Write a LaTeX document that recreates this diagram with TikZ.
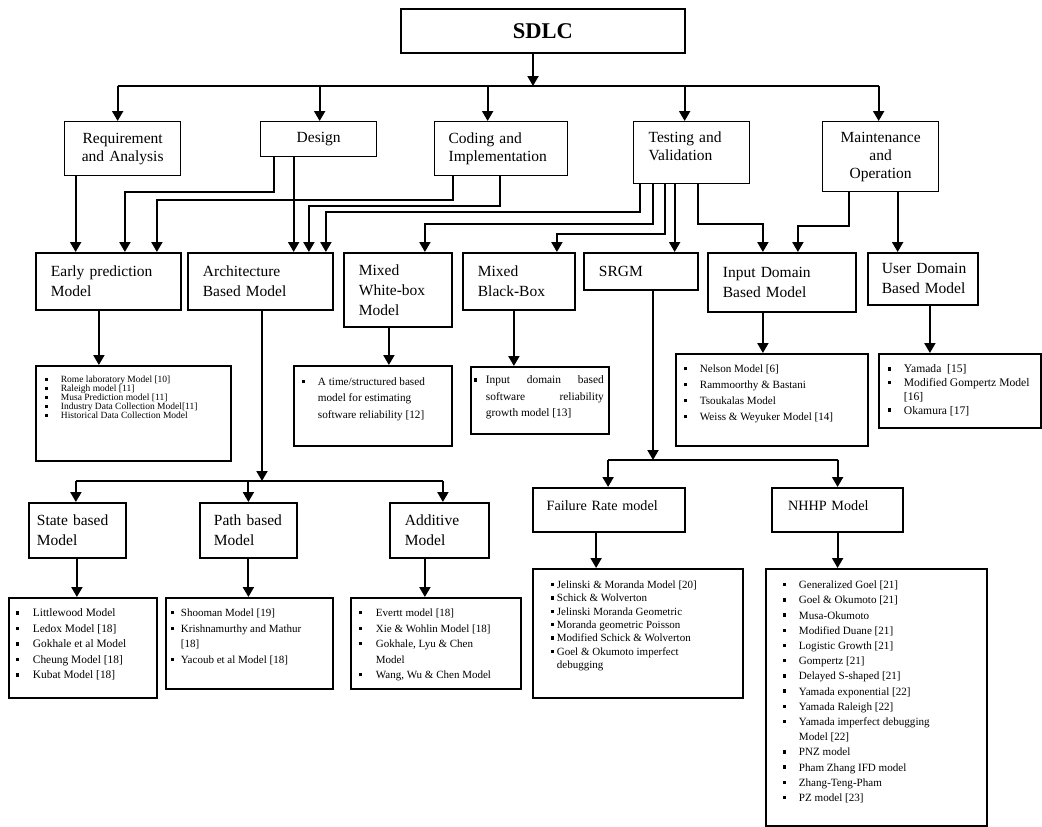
\documentclass[tikz,border=0pt]{standalone}
\usepackage{fontspec}
\setmainfont{Liberation Serif}
\usepackage{tikz}
\usetikzlibrary{arrows.meta}

\newlength\bulx
\newlength\txtx
\newcommand{\mitem}[1]{\par\hangindent=\txtx\hangafter=1\noindent\hspace*{\bulx}\makebox[\dimexpr\txtx-\bulx\relax][l]{\rule[0.2em]{0.3em}{0.3em}}#1\par}
\newcommand{\modlist}[6]{\parbox[t][#2pt][t]{#1pt}{\setlength\parskip{0pt}\setlength\bulx{#3pt}\setlength\txtx{#4pt}\rightskip=0pt plus 1fil\vspace*{#5pt}#6}}

\begin{document}
\begin{tikzpicture}[x=1pt, y=-1pt,
  phase/.style={draw, line width=1.3pt, anchor=north west, inner ysep=0pt, font={\fontsize{15.5}{18}\selectfont}},
  model/.style={draw, line width=1.8pt, anchor=north west, inner ysep=0pt, inner xsep=15pt, align=left, font={\fontsize{15.5}{20}\selectfont}},
  rate/.style={model, line width=2.2pt, text depth=9pt, font={\fontsize{14.2}{17}\selectfont}},
  listbox/.style={draw, line width=1.8pt, anchor=north west, inner sep=0pt},
  arr/.style={line width=2pt, -{Triangle[length=10pt, width=11pt]}},
  bar/.style={line width=2pt}]
  \useasboundingbox (0,0) rectangle (1042,827);

  % phases
  \node[phase, line width=1.8pt, minimum width=284pt, minimum height=44pt, font={\fontsize{22.5}{26}\selectfont\bfseries}] (sdlc) at (400,8) {SDLC};
  \node[phase, text width=106pt, inner xsep=5pt, minimum height=54pt, align=center] (req) at (64,121) {Requirement\\and Analysis};
  \node[phase, text width=106pt, inner xsep=5pt, minimum height=35pt, align=center] (design) at (260,121) {Design};
  \node[phase, text width=105pt, inner xsep=14pt, minimum height=54pt, align=left] (coding) at (434,121) {Coding and\\Implementation};
  \node[phase, text width=86pt, inner xsep=15pt, minimum height=62pt, text depth=31pt, align=left] (testing) at (633,121) {Testing and\\Validation};
  \node[phase, text width=106pt, inner xsep=5pt, minimum height=70pt, align=center] (maint) at (822,121) {Maintenance\\and\\Operation};

  % models
  \node[model, text width=115pt, minimum height=57pt] (early) at (35,252) {Early prediction\\Model};
  \node[model, text width=115pt, minimum height=57pt] (arch) at (187,252) {Architecture\\Based Model};
  \node[model, text width=78pt, minimum height=74pt] (white) at (343,252) {Mixed\\White-box\\Model};
  \node[model, text width=82pt, minimum height=57pt] (black) at (462,252) {Mixed\\Black-Box};
  \node[model, text width=84pt, minimum height=37pt] (srgm) at (583,252) {SRGM};
  \node[model, text width=118pt, minimum height=59pt] (input) at (707,252) {Input Domain\\Based Model};
  \node[model, text width=90pt, inner xsep=10pt, minimum height=52pt] (user) at (867,252) {\hspace*{4pt}User Domain\\\hspace*{4pt}Based Model};

  \node[model, text width=81pt, inner xsep=8pt, minimum height=55pt] (state) at (28,502) {State based\\Model};
  \node[model, text width=69pt, inner xsep=14pt, minimum height=55pt] (path) at (199,502) {Path based\\Model};
  \node[model, text width=69pt, minimum height=55pt] (additive) at (389,502) {Additive\\Model};
  \node[rate, text width=125pt, inner xsep=13.5pt, minimum height=44pt] (failure) at (532,487) {Failure Rate model};
  \node[rate, text width=99pt, inner xsep=16pt, minimum height=44pt] (nhhp) at (771,487) {NHHP Model};

  % lists
  \node[listbox] (earlylist) at (35,365) {\modlist{195}{95}{9}{25}{10}{\fontsize{9.5}{9.1}\selectfont
    \mitem{Rome laboratory Model [10]}
    \mitem{Raleigh model [11]}
    \mitem{Musa Prediction model [11]}
    \mitem{Industry Data Collection Model[11]}
    \mitem{Historical Data Collection Model}}};
  \node[listbox] (whitelist) at (293,365) {\modlist{158}{80}{8}{24}{12}{\fontsize{11.2}{16.2}\selectfont
    \mitem{A time/structured based\\model for estimating\\software reliability [12]}}};
  \node[listbox] (blacklist) at (470,366) {\modlist{138}{67}{3}{15}{9}{\fontsize{11.4}{16.3}\selectfont\rightskip=5pt plus 1fil
    \mitem{Input\hfill domain\hfill based\\software\hfill reliability\\growth model [13]}}};
  \node[listbox] (inputlist) at (675,353) {\modlist{192}{92}{8}{24}{11}{\fontsize{11.1}{16}\selectfont
    \mitem{Nelson Model [6]}
    \mitem{Rammoorthy \& Bastani}
    \mitem{Tsoukalas Model}
    \mitem{Weiss \& Weyuker Model [14]}}};
  \node[listbox] (userlist) at (878,353) {\modlist{162}{74}{9}{25}{11}{\fontsize{11.6}{13.7}\selectfont
    \mitem{Yamada\ \ [15]}
    \mitem{Modified Gompertz Model\\{[16]}}
    \mitem{Okamura [17]}}};
  \node[listbox] (statelist) at (8,597) {\modlist{148}{100}{7}{24}{11}{\fontsize{11.4}{15.5}\selectfont
    \mitem{Littlewood Model}
    \mitem{Ledox Model [18]}
    \mitem{Gokhale et al Model}
    \mitem{Cheung Model [18]}
    \mitem{Kubat Model [18]}}};
  \node[listbox] (pathlist) at (165,597) {\modlist{167}{91}{5}{15}{11}{\fontsize{11}{15.6}\selectfont
    \mitem{Shooman Model [19]}
    \mitem{Krishnamurthy and Mathur\\{[18]}}
    \mitem{Yacoub et al Model [18]}}};
  \node[listbox] (addlist) at (350,597) {\modlist{170}{91}{8}{25}{11}{\fontsize{11}{15.5}\selectfont
    \mitem{Evertt model [18]}
    \mitem{Xie \& Wohlin Model [18]}
    \mitem{Gokhale, Lyu \& Chen\\Model}
    \mitem{Wang, Wu \& Chen Model}}};
  \node[listbox] (faillist) at (532,568) {\modlist{210}{129}{18}{24}{12}{\fontsize{11}{13.3}\selectfont
    \mitem{Jelinski \& Moranda Model [20]}
    \mitem{Schick \& Wolverton}
    \mitem{Jelinski Moranda Geometric}
    \mitem{Moranda geometric Poisson}
    \mitem{Modified Schick \& Wolverton}
    \mitem{Goel \& Okumoto imperfect\\debugging}}};
  \node[listbox] (nhhplist) at (765,568) {\modlist{221}{257}{17}{33}{12}{\fontsize{11.1}{15.2}\selectfont
    \mitem{Generalized Goel [21]}
    \mitem{Goel \& Okumoto [21]}
    \mitem{Musa-Okumoto}
    \mitem{Modified Duane [21]}
    \mitem{Logistic Growth [21]}
    \mitem{Gompertz [21]}
    \mitem{Delayed S-shaped [21]}
    \mitem{Yamada exponential [22]}
    \mitem{Yamada Raleigh [22]}
    \mitem{Yamada imperfect debugging\\Model [22]}
    \mitem{PNZ model}
    \mitem{Pham Zhang IFD model}
    \mitem{Zhang-Teng-Pham}
    \mitem{PZ model [23]}}};

  % SDLC to phases
  \coordinate (bus) at (533,86);
  \draw[arr] (sdlc.south -| bus) -- (bus);
  \draw[bar] ([xshift=-5pt]req.north |- bus) -- ([xshift=-2pt]maint.north |- bus);
  \foreach \n/\dx in {req/-5pt, design/1pt, coding/-13.5pt, testing/-7pt, maint/-2pt}
    \draw[arr] ([xshift=\dx]\n.north |- bus) -- ([xshift=\dx]\n.north);

  % phases to models
  \draw[arr] ([xshift=-47pt]req.south) -- ([xshift=-47pt]req.south |- early.north);
  \draw[arr] ([xshift=-45pt]design.south) -- ++(0,35) -| ([xshift=16.5pt]early.north);
  \draw[arr] ([xshift=-48.5pt]coding.south) -- ++(0,24) -| ([xshift=48.5pt]early.north);
  \draw[arr] ([xshift=-25pt]design.south) -- ([xshift=-25pt]design.south |- arch.north);
  \draw[arr] ([xshift=-1.5pt]coding.south) -- ++(0,30) -| ([xshift=48.5pt]arch.north);
  \draw[arr] ([xshift=-52pt]testing.south) -- ++(0,28) -| ([xshift=65.5pt]arch.north);
  \draw[arr] ([xshift=-39pt]testing.south) -- ++(0,40) -| ([xshift=27pt]white.north);
  \draw[arr] ([xshift=-27pt]testing.south) -- ++(0,50) -| ([xshift=38pt]black.north);
  \draw[arr] ([xshift=-17pt]testing.south) -- ([xshift=-17pt]testing.south |- srgm.north);
  \draw[arr] ([xshift=6pt]testing.south) -- ++(0,40) -| ([xshift=-19pt]input.north);
  \draw[arr] ([xshift=-32pt]maint.south) -- ++(0,34) -| ([xshift=16pt]input.north);
  \draw[arr] ([xshift=17pt]maint.south) -- ([xshift=17pt]maint.south |- user.north);

  % architecture split
  \coordinate (archfork) at (262,481);
  \draw[arr] (arch.south -| archfork) -- (archfork);
  \draw[bar] ([xshift=-1.5pt]state.north |- archfork) -- ([xshift=3.5pt]additive.north |- archfork);
  \foreach \n/\dx in {state/-1.5pt, path/0pt, additive/3.5pt}
    \draw[arr] ([xshift=\dx]\n.north |- archfork) -- ([xshift=\dx]\n.north);

  % srgm split
  \coordinate (srgmfork) at (653,460);
  \draw[arr] (srgm.south -| srgmfork) -- (srgmfork);
  \draw[bar] ([xshift=-1pt]failure.north |- srgmfork) -- (nhhp.north |- srgmfork);
  \foreach \n/\dx in {failure/-1pt, nhhp/0pt}
    \draw[arr] ([xshift=\dx]\n.north |- srgmfork) -- ([xshift=\dx]\n.north);

  % models to lists
  \foreach \a/\b/\dx in {early/earlylist/-9.5pt, white/whitelist/-9pt, black/blacklist/-5pt,
      input/inputlist/-19pt, user/userlist/7pt, state/statelist/-0.5pt, path/pathlist/0pt,
      additive/addlist/-14.5pt, failure/faillist/-13pt, nhhp/nhhplist/0pt}
    \draw[arr] ([xshift=\dx]\a.south) -- ([xshift=\dx]\a.south |- \b.north);
\end{tikzpicture}
\end{document}
